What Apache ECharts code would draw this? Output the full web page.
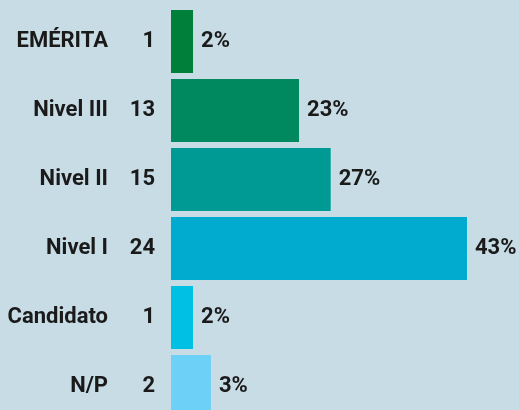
<!DOCTYPE html>
<html>
<head>
<meta charset="utf-8">
<script src="https://cdn.jsdelivr.net/npm/echarts@6/dist/echarts.min.js"></script>
<style>
  html, body { margin: 0; padding: 0; background: #c8dce6; overflow: hidden; }
  /* la última barra queda cortada por el borde inferior, como en el original */
  #container { width: 519px; height: 424px; }
</style>
</head>
<body>
<div id="container"></div>
<script>
var dom = document.getElementById("container");
var myChart = echarts.init(dom);

// datos (de arriba hacia abajo)
var categories = ['EMÉRITA', 'Nivel III', 'Nivel II', 'Nivel I', 'Candidato', 'N/P'];
var counts = [1, 13, 15, 24, 1, 2];
var percents = ['2%', '23%', '27%', '43%', '2%', '3%'];
// largo de barra estimado en la imagen (43% = barra completa)
var barLength = [3.2, 18.6, 23.2, 43, 3.2, 5.8];
var colorList = ['#007f3b', '#00885e', '#009a95', '#00abcf', '#00c0e4', '#6dd0f7'];

var labelFont = 'Roboto';
var labelSize = 22;

var option = {
	animation: false,
	backgroundColor: '#c8dce6',
	grid: {
		left: 171,
		right: 0,
		top: 7,
		height: 414
	},
	xAxis: {
		type: 'value',
		min: 0,
		max: 43 * 348 / 296,
		show: false
	},
	yAxis: {
		type: 'category',
		inverse: true,
		data: categories,
		axisLine: { show: false },
		axisTick: { show: false },
		axisLabel: {
			margin: 16,
			formatter: function (value, idx) {
				return '{n|' + value + '}{c|' + counts[idx] + '}';
			},
			rich: {
				n: {
					width: 100,
					align: 'right',
					fontFamily: labelFont,
					fontWeight: 'bold',
					fontSize: labelSize,
					color: '#1a1a1a'
				},
				c: {
					width: 47,
					align: 'right',
					fontFamily: labelFont,
					fontWeight: 'bold',
					fontSize: labelSize,
					color: '#1a1a1a'
				}
			}
		}
	},
	series: [{
		type: 'bar',
		barWidth: 63,
		data: barLength.map(function (v, i) {
			return { value: v, itemStyle: { color: colorList[i] } };
		}),
		label: {
			show: true,
			position: 'right',
			distance: 8,
			fontFamily: labelFont,
			fontWeight: 'bold',
			fontSize: labelSize,
			color: '#1a1a1a',
			formatter: function (p) {
				return percents[p.dataIndex];
			}
		}
	}]
};

myChart.setOption(option, true);
</script>
</body>
</html>
